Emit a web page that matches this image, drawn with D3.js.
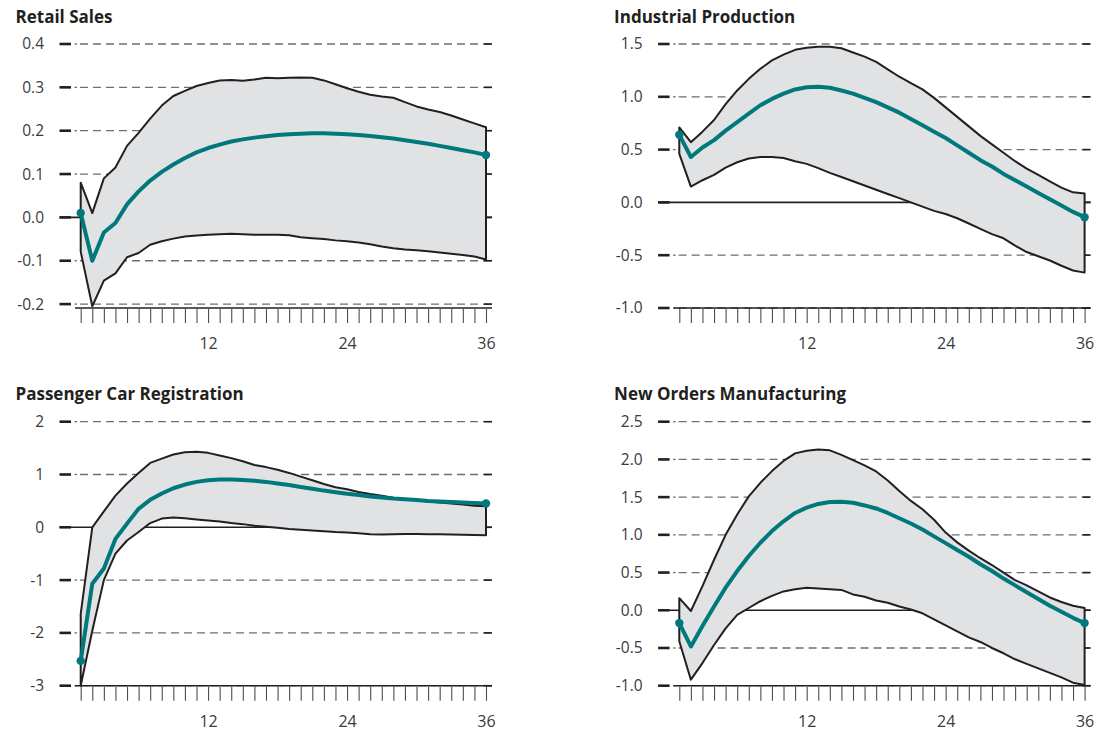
<!DOCTYPE html>
<html>
<head>
<meta charset="utf-8">
<script src="https://cdn.jsdelivr.net/npm/d3@7"></script>
<style>
  body { margin: 0; background: #fff; }
  svg text { font-family: 'Open Sans', 'Noto Sans', sans-serif; fill: #231f20; }
</style>
</head>
<body>
<svg id="drawing_region"></svg>
<script>
// months after the shock
const months = d3.range(1, 37);
const xTickLabels = [12, 24, 36];

// Retail Sales
const retailTicks = [-0.2, -0.1, 0, 0.1, 0.2, 0.3, 0.4];
const retailMid = [0.01, -0.10, -0.035, -0.013, 0.03, 0.06, 0.085, 0.105, 0.122, 0.137, 0.15, 0.16, 0.168, 0.175, 0.18, 0.184, 0.187, 0.19, 0.192, 0.193, 0.194, 0.194, 0.193, 0.192, 0.19, 0.188, 0.185, 0.182, 0.178, 0.174, 0.17, 0.165, 0.16, 0.155, 0.15, 0.144];
const retailUpper = [0.08, 0.01, 0.09, 0.115, 0.165, 0.195, 0.228, 0.258, 0.28, 0.292, 0.303, 0.31, 0.316, 0.317, 0.315, 0.318, 0.322, 0.321, 0.322, 0.323, 0.322, 0.316, 0.307, 0.298, 0.29, 0.283, 0.279, 0.276, 0.266, 0.256, 0.249, 0.243, 0.235, 0.226, 0.217, 0.208];
const retailLower = [-0.079, -0.205, -0.146, -0.129, -0.092, -0.082, -0.063, -0.055, -0.049, -0.044, -0.042, -0.04, -0.039, -0.038, -0.039, -0.04, -0.04, -0.04, -0.041, -0.046, -0.048, -0.05, -0.053, -0.055, -0.058, -0.062, -0.067, -0.071, -0.074, -0.076, -0.078, -0.081, -0.084, -0.087, -0.09, -0.097];

// Industrial Production
const industryTicks = [-1.0, -0.5, 0, 0.5, 1.0, 1.5];
const industryMid = [0.64, 0.43, 0.52, 0.59, 0.68, 0.76, 0.84, 0.92, 0.98, 1.03, 1.07, 1.09, 1.095, 1.085, 1.06, 1.03, 0.99, 0.95, 0.9, 0.85, 0.79, 0.73, 0.67, 0.61, 0.54, 0.47, 0.4, 0.34, 0.27, 0.21, 0.15, 0.09, 0.03, -0.03, -0.09, -0.14];
const industryUpper = [0.71, 0.57, 0.67, 0.78, 0.93, 1.06, 1.17, 1.265, 1.345, 1.40, 1.445, 1.465, 1.475, 1.475, 1.46, 1.42, 1.38, 1.33, 1.26, 1.19, 1.13, 1.07, 0.99, 0.9, 0.81, 0.72, 0.63, 0.55, 0.47, 0.39, 0.32, 0.26, 0.2, 0.14, 0.095, 0.085];
const industryLower = [0.46, 0.15, 0.21, 0.26, 0.33, 0.38, 0.415, 0.43, 0.43, 0.42, 0.39, 0.365, 0.325, 0.28, 0.24, 0.2, 0.16, 0.12, 0.08, 0.04, 0.0, -0.04, -0.08, -0.11, -0.15, -0.2, -0.25, -0.3, -0.34, -0.41, -0.47, -0.51, -0.55, -0.6, -0.645, -0.665];

// Passenger Car Registration
const carTicks = [-3, -2, -1, 0, 1, 2];
const carMid = [-2.53, -1.07, -0.78, -0.22, 0.07, 0.35, 0.52, 0.64, 0.74, 0.81, 0.86, 0.89, 0.905, 0.905, 0.895, 0.88, 0.86, 0.83, 0.8, 0.765, 0.73, 0.695, 0.665, 0.635, 0.61, 0.585, 0.565, 0.545, 0.53, 0.515, 0.5, 0.49, 0.48, 0.47, 0.46, 0.45];
const carUpper = [-1.64, 0.0, 0.3, 0.6, 0.83, 1.03, 1.22, 1.3, 1.38, 1.42, 1.43, 1.41, 1.36, 1.31, 1.25, 1.18, 1.14, 1.09, 1.03, 0.96, 0.89, 0.82, 0.76, 0.72, 0.67, 0.63, 0.6, 0.56, 0.535, 0.51, 0.49, 0.47, 0.45, 0.43, 0.41, 0.4];
const carLower = [-3.0, -1.96, -1.0, -0.5, -0.25, -0.09, 0.08, 0.165, 0.185, 0.17, 0.15, 0.13, 0.11, 0.08, 0.06, 0.03, 0.01, -0.01, -0.03, -0.045, -0.06, -0.075, -0.09, -0.1, -0.115, -0.13, -0.135, -0.13, -0.125, -0.125, -0.13, -0.13, -0.135, -0.14, -0.145, -0.15];

// New Orders Manufacturing
const ordersTicks = [-1.0, -0.5, 0, 0.5, 1.0, 1.5, 2.0, 2.5];
const ordersMid = [-0.17, -0.48, -0.21, 0.05, 0.3, 0.52, 0.72, 0.895, 1.05, 1.18, 1.29, 1.36, 1.41, 1.435, 1.44, 1.425, 1.39, 1.35, 1.29, 1.22, 1.15, 1.07, 0.98, 0.89, 0.8, 0.71, 0.61, 0.52, 0.42, 0.33, 0.24, 0.15, 0.06, -0.02, -0.1, -0.17];
const ordersUpper = [0.16, -0.01, 0.32, 0.67, 1.0, 1.27, 1.51, 1.69, 1.845, 1.98, 2.08, 2.115, 2.13, 2.12, 2.06, 1.99, 1.92, 1.84, 1.72, 1.58, 1.45, 1.34, 1.2, 1.03, 0.9, 0.79, 0.69, 0.6, 0.5, 0.4, 0.33, 0.25, 0.17, 0.11, 0.06, 0.03];
const ordersLower = [-0.41, -0.92, -0.7, -0.46, -0.24, -0.06, 0.03, 0.12, 0.19, 0.25, 0.28, 0.3, 0.29, 0.28, 0.27, 0.21, 0.18, 0.13, 0.1, 0.05, 0.01, -0.04, -0.12, -0.2, -0.28, -0.36, -0.42, -0.5, -0.57, -0.65, -0.71, -0.77, -0.83, -0.89, -0.96, -0.99];

class IrfPanel {

    constructor( config, data ) {
        this.config = {
            parent: config.parent,
            title: config.title,
            x0: config.x0 || 0,
            y0: config.y0 || 0,
            ticks: config.ticks,
            domain: config.domain,
            format: config.format || ( d => d.toFixed(1) )
        };
        this.data = data;
        this.init();
    }

    init() {
        let self = this;
        self.chart = d3.select( self.config.parent ).append('g')
            .attr('transform', `translate(${self.config.x0}, ${self.config.y0})`);
        self.xscale = d3.scaleLinear().domain([1, 36]).range([80.7, 486]);
        self.yscale = d3.scaleLinear().domain( self.config.domain ).range([308, 44]);
    }

    render() {
        let self = this;
        const x = self.xscale, y = self.yscale;
        const ticks = self.config.ticks;

        self.chart.append('text')
            .attr('x', 15.5).attr('y', 22.5)
            .attr('font-size', 17).attr('font-weight', 'bold')
            .text( self.config.title );

        // grid: thick stub, dot, then dashes
        const grid = self.chart.append('g');
        grid.selectAll('.dash')
            .data( ticks.filter(d => d !== 0) ).enter().append('line')
            .attr('x1', 80).attr('x2', 492)
            .attr('y1', d => y(d)).attr('y2', d => y(d))
            .attr('stroke', '#6d6e71').attr('stroke-width', 1.3)
            .attr('stroke-dasharray', '8,5');
        grid.selectAll('.dot')
            .data( ticks.filter(d => d !== 0) ).enter().append('line')
            .attr('x1', 74.5).attr('x2', 77)
            .attr('y1', d => y(d)).attr('y2', d => y(d))
            .attr('stroke', '#6d6e71').attr('stroke-width', 1.3);
        grid.selectAll('.stub')
            .data( ticks ).enter().append('line')
            .attr('x1', 59.5).attr('x2', 71)
            .attr('y1', d => y(d)).attr('y2', d => y(d))
            .attr('stroke', '#231f20').attr('stroke-width', 2.6);
        grid.selectAll('.rstub')
            .data( ticks ).enter().append('line')
            .attr('x1', 484).attr('x2', 492)
            .attr('y1', d => y(d)).attr('y2', d => y(d))
            .attr('stroke', '#231f20').attr('stroke-width', 1.6);
        grid.append('line')
            .attr('x1', 59.5).attr('x2', 492)
            .attr('y1', y(0)).attr('y2', y(0))
            .attr('stroke', '#231f20').attr('stroke-width', 1.6);

        // y labels
        const yaxis = self.chart.append('g')
            .attr('transform', 'translate(60,0)')
            .call( d3.axisLeft(y).tickValues(ticks).tickSize(0).tickPadding(16)
                .tickFormat( self.config.format ) );
        yaxis.select('.domain').remove();
        yaxis.selectAll('text')
            .attr('font-size', 15.5).attr('font-family', null).style('fill', '#3b3b3b');

        // confidence band
        const band = d3.area()
            .x( (d, i) => x( months[i] ) )
            .y0( d => y(d.lo) )
            .y1( d => y(d.hi) );
        const rows = months.map( (m, i) => ({ lo: self.data.lower[i], hi: self.data.upper[i] }) );
        self.chart.append('path')
            .datum( rows )
            .attr('d', band)
            .attr('fill', '#e1e2e4')
            .attr('stroke', '#231f20')
            .attr('stroke-width', 2)
            .attr('stroke-linejoin', 'round');

        // x axis
        const xaxis = self.chart.append('g')
            .attr('transform', 'translate(0,308)')
            .call( d3.axisBottom(x).tickValues(months).tickSize(15).tickPadding(14.5)
                .tickFormat( d => xTickLabels.includes(d) ? d : '' ) );
        xaxis.select('.domain').remove();
        xaxis.selectAll('.tick line').attr('stroke', '#4d4d4f').attr('stroke-width', 1.1).attr('y1', 1);
        xaxis.selectAll('text')
            .attr('font-size', 16).attr('font-family', null).style('fill', '#3b3b3b');
        self.chart.append('line')
            .attr('x1', 75).attr('x2', 492)
            .attr('y1', 308).attr('y2', 308)
            .attr('stroke', '#231f20').attr('stroke-width', 1.6);

        // impulse response
        const line = d3.line()
            .x( (d, i) => x( months[i] ) )
            .y( d => y(d) );
        self.chart.append('path')
            .datum( self.data.mid )
            .attr('d', line)
            .attr('fill', 'none')
            .attr('stroke', '#00797c')
            .attr('stroke-width', 4)
            .attr('stroke-linejoin', 'round');
        self.chart.selectAll('.end')
            .data( [0, 35] ).enter().append('circle')
            .attr('cx', i => x( months[i] ))
            .attr('cy', i => y( self.data.mid[i] ))
            .attr('r', 4.2)
            .attr('fill', '#00797c');
    }
}

d3.select('#drawing_region').attr('width', 1095).attr('height', 733);

const panels = [
    { title: 'Retail Sales', x0: 0, y0: 0, ticks: retailTicks, domain: [-0.209, 0.4],
      data: { mid: retailMid, upper: retailUpper, lower: retailLower } },
    { title: 'Industrial Production', x0: 598.6, y0: 0, ticks: industryTicks, domain: [-1, 1.5],
      data: { mid: industryMid, upper: industryUpper, lower: industryLower } },
    { title: 'Passenger Car Registration', x0: 0, y0: 377.7, ticks: carTicks, domain: [-3, 2],
      format: d => String(d),
      data: { mid: carMid, upper: carUpper, lower: carLower } },
    { title: 'New Orders Manufacturing', x0: 598.6, y0: 377.7, ticks: ordersTicks, domain: [-1, 2.5],
      data: { mid: ordersMid, upper: ordersUpper, lower: ordersLower } }
];

panels.forEach( p => {
    const panel = new IrfPanel( Object.assign({ parent: '#drawing_region' }, p), p.data );
    panel.render();
});
</script>
</body>
</html>
